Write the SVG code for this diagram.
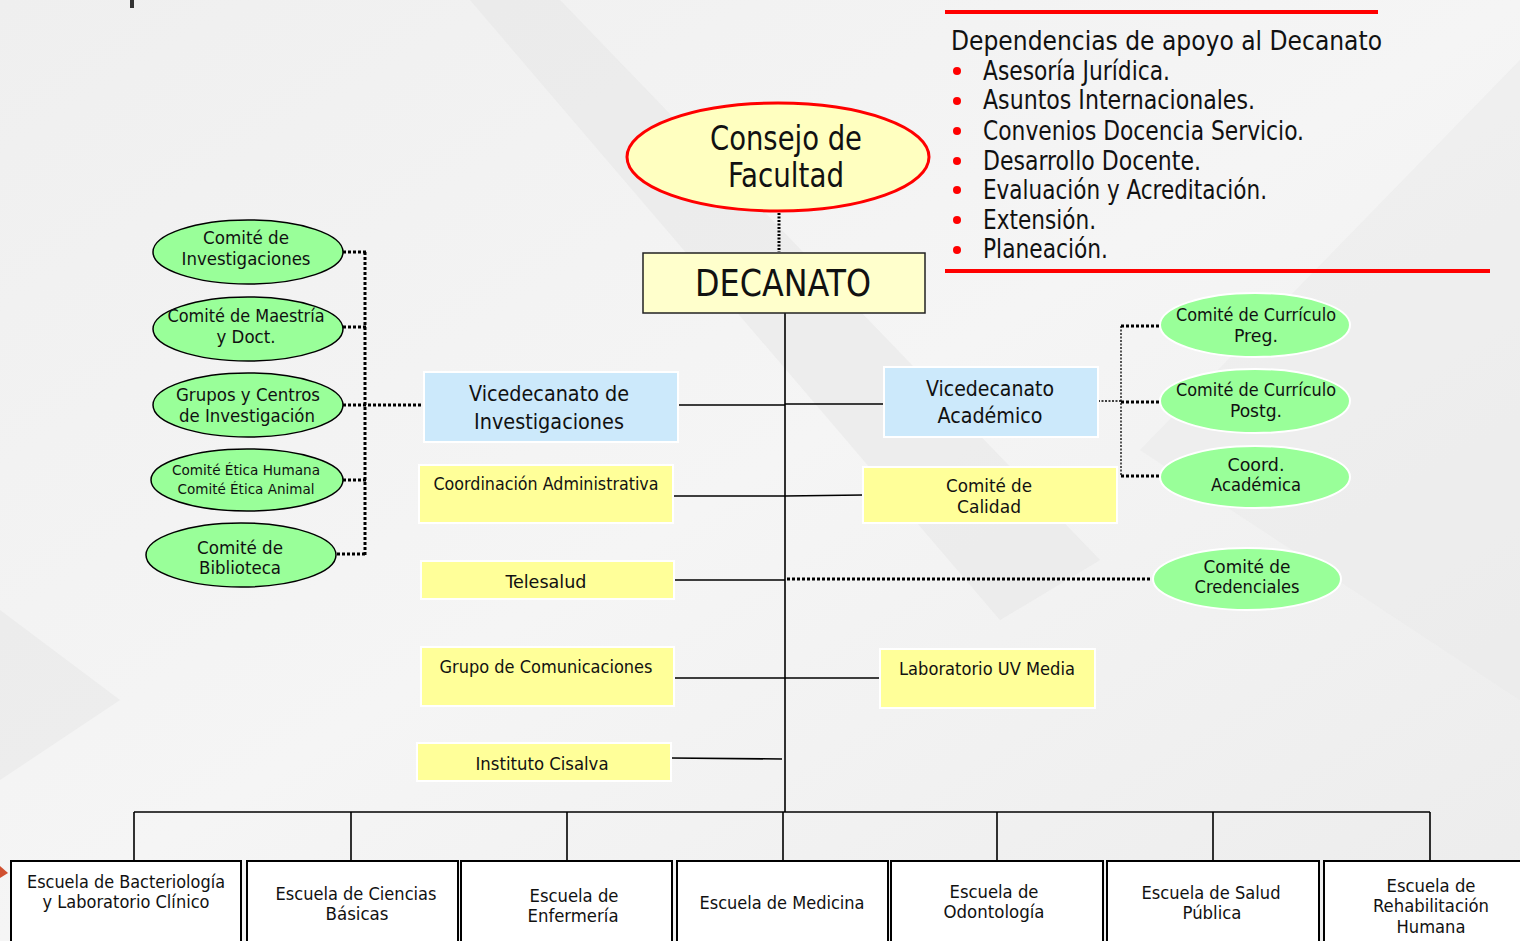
<svg xmlns="http://www.w3.org/2000/svg" width="1520" height="941" viewBox="0 0 1520 941">
<defs>
<linearGradient id="bg" x1="0" y1="0" x2="1" y2="1">
<stop offset="0" stop-color="#efefef"/>
<stop offset="0.5" stop-color="#f5f5f5"/>
<stop offset="1" stop-color="#ececec"/>
</linearGradient>
</defs>
<style>
text{font-family:"DejaVu Sans Condensed","DejaVu Sans",Verdana,sans-serif;fill:#111;text-anchor:middle}
.t18{font-size:18px}
.t14{font-size:14px}
.t22{font-size:22px}
.t26{font-size:26px;text-anchor:start}
.green{fill:#99ff99;stroke:#000;stroke-width:1.5}
.greenw{fill:#99ff99;stroke:#ffffff;stroke-width:2}
.yel{fill:#ffff99;stroke:#ffffff;stroke-width:2}
.blue{fill:#cce9fb;stroke:#ffffff;stroke-width:2}
.school{fill:#ffffff;stroke:#000;stroke-width:2}
.solid{stroke:#000;stroke-width:1.6;fill:none}
.dotb{stroke:#000;stroke-width:3;stroke-dasharray:3 2;fill:none}
.dott{stroke:#000;stroke-width:1.3;stroke-dasharray:2 1.5;fill:none}
.red{stroke:#ff0000;stroke-width:4}
</style>
<rect width="1520" height="941" fill="url(#bg)"/>
<polygon points="470,0 560,0 1100,560 1000,620" fill="#e6e6e6" opacity="0.5"/>
<polygon points="0,780 120,700 0,610" fill="#e8e8e8" opacity="0.6"/>
<polygon points="1140,450 1520,60 1520,700" fill="#e9e9e9" opacity="0.5"/>
<rect x="130" y="0" width="4" height="8" fill="#333"/>
<polygon points="0,866 8,873 0,878" fill="#d05030"/>

<!-- Legend -->
<g id="legend">
<line class="red" x1="945" y1="12" x2="1378" y2="12"/>
<line class="red" x1="945" y1="271" x2="1490" y2="271"/>
<text x="951" y="50" class="t26" textLength="431" lengthAdjust="spacingAndGlyphs">Dependencias de apoyo al Decanato</text>
<g fill="#ff0000">
<circle cx="957" cy="71" r="4"/><circle cx="957" cy="101" r="4"/><circle cx="957" cy="131" r="4"/><circle cx="957" cy="161" r="4"/><circle cx="957" cy="190" r="4"/><circle cx="957" cy="220" r="4"/><circle cx="957" cy="250" r="4"/>
</g>
<text x="983" y="80" class="t26" textLength="187" lengthAdjust="spacingAndGlyphs">Asesoría Jurídica.</text>
<text x="983" y="109" class="t26" textLength="272" lengthAdjust="spacingAndGlyphs">Asuntos Internacionales.</text>
<text x="983" y="140" class="t26" textLength="321" lengthAdjust="spacingAndGlyphs">Convenios Docencia Servicio.</text>
<text x="983" y="170" class="t26" textLength="218" lengthAdjust="spacingAndGlyphs">Desarrollo Docente.</text>
<text x="983" y="199" class="t26" textLength="284" lengthAdjust="spacingAndGlyphs">Evaluación y Acreditación.</text>
<text x="983" y="229" class="t26" textLength="113" lengthAdjust="spacingAndGlyphs">Extensión.</text>
<text x="983" y="258" class="t26" textLength="125" lengthAdjust="spacingAndGlyphs">Planeación.</text>
</g>

<!-- Connectors -->
<g id="connectors">
<line class="dott" x1="779" y1="213" x2="779" y2="252" style="stroke-width:3"/>
<line class="solid" x1="785" y1="313" x2="785" y2="812"/>
<line class="solid" x1="134" y1="812" x2="1430" y2="812"/>
<line class="solid" x1="134" y1="812" x2="134" y2="860"/>
<line class="solid" x1="351" y1="812" x2="351" y2="860"/>
<line class="solid" x1="567" y1="812" x2="567" y2="860"/>
<line class="solid" x1="783" y1="812" x2="783" y2="860"/>
<line class="solid" x1="997" y1="812" x2="997" y2="860"/>
<line class="solid" x1="1213" y1="812" x2="1213" y2="860"/>
<line class="solid" x1="1430" y1="812" x2="1430" y2="860"/>
<line class="solid" x1="678" y1="405" x2="785" y2="405"/>
<line class="solid" x1="785" y1="404" x2="884" y2="404"/>
<line class="solid" x1="673" y1="496" x2="785" y2="496"/>
<line class="solid" x1="785" y1="496" x2="863" y2="495"/>
<line class="solid" x1="674" y1="580" x2="785" y2="580"/>
<line class="dotb" x1="787" y1="579" x2="1150" y2="579"/>
<line class="solid" x1="674" y1="678" x2="880" y2="678"/>
<line class="solid" x1="671" y1="758" x2="782" y2="759"/>
<!-- left dotted -->
<line class="dotb" x1="365" y1="252" x2="365" y2="555"/>
<line class="dotb" x1="343" y1="252" x2="366" y2="252"/>
<line class="dotb" x1="343" y1="327" x2="366" y2="327"/>
<line class="dotb" x1="343" y1="405" x2="424" y2="405"/>
<line class="dotb" x1="343" y1="480" x2="366" y2="480"/>
<line class="dotb" x1="337" y1="554" x2="366" y2="554"/>
<!-- right dotted -->
<line class="dott" x1="1121" y1="326" x2="1121" y2="476"/>
<line class="dott" x1="1098" y1="401" x2="1121" y2="401"/>
<line class="dotb" x1="1121" y1="326" x2="1160" y2="326"/>
<line class="dotb" x1="1121" y1="402" x2="1160" y2="402"/>
<line class="dotb" x1="1121" y1="476" x2="1160" y2="476"/>
</g>

<g id="consejo">
<ellipse cx="778" cy="157" rx="151" ry="54" fill="#ffffc0" stroke="#ff0000" stroke-width="3"/>
<text x="786" y="150" style="font-size:34px" textLength="152" lengthAdjust="spacingAndGlyphs">Consejo de</text>
<text x="786" y="187" style="font-size:34px" textLength="116" lengthAdjust="spacingAndGlyphs">Facultad</text>
</g>
<g id="decanato">
<rect x="643" y="253" width="282" height="60" fill="#ffffcc" stroke="#222" stroke-width="1.5"/>
<text x="783" y="296" style="font-size:37px" textLength="176" lengthAdjust="spacingAndGlyphs">DECANATO</text>
</g>

<g id="vice-inv">
<rect class="blue" x="424" y="372" width="254" height="70"/>
<text class="t22" x="549" y="401" textLength="160" lengthAdjust="spacingAndGlyphs">Vicedecanato de</text>
<text class="t22" x="549" y="429" textLength="150" lengthAdjust="spacingAndGlyphs">Investigaciones</text>
</g>
<g id="vice-acad">
<rect class="blue" x="884" y="367" width="214" height="70"/>
<text class="t22" x="990" y="396" textLength="128" lengthAdjust="spacingAndGlyphs">Vicedecanato</text>
<text class="t22" x="990" y="423" textLength="105" lengthAdjust="spacingAndGlyphs">Académico</text>
</g>
<g id="coord-adm">
<rect class="yel" x="419" y="465" width="254" height="58"/>
<text class="t18" x="546" y="490" textLength="225" lengthAdjust="spacingAndGlyphs">Coordinación Administrativa</text>
</g>
<g id="calidad">
<rect class="yel" x="863" y="467" width="254" height="56"/>
<text class="t18" x="989" y="492" textLength="86" lengthAdjust="spacingAndGlyphs">Comité de</text>
<text class="t18" x="989" y="513" textLength="64" lengthAdjust="spacingAndGlyphs">Calidad</text>
</g>
<g id="telesalud">
<rect class="yel" x="421" y="561" width="253" height="38"/>
<text class="t18" x="546" y="588" textLength="81" lengthAdjust="spacingAndGlyphs">Telesalud</text>
</g>
<g id="comunicaciones">
<rect class="yel" x="421" y="647" width="253" height="59"/>
<text class="t18" x="546" y="673" textLength="213" lengthAdjust="spacingAndGlyphs">Grupo de Comunicaciones</text>
</g>
<g id="uvmedia">
<rect class="yel" x="880" y="649" width="215" height="59"/>
<text class="t18" x="987" y="675" textLength="176" lengthAdjust="spacingAndGlyphs">Laboratorio UV Media</text>
</g>
<g id="cisalva">
<rect class="yel" x="417" y="743" width="254" height="38"/>
<text class="t18" x="542" y="770" textLength="133" lengthAdjust="spacingAndGlyphs">Instituto Cisalva</text>
</g>

<g id="c-investigaciones">
<ellipse class="green" cx="248" cy="252" rx="95" ry="32"/>
<text class="t18" x="246" y="244" textLength="86" lengthAdjust="spacingAndGlyphs">Comité de</text>
<text class="t18" x="246" y="265" textLength="129" lengthAdjust="spacingAndGlyphs">Investigaciones</text>
</g>
<g id="c-maestria">
<ellipse class="green" cx="248" cy="329" rx="95" ry="32"/>
<text class="t18" x="246" y="322" textLength="157" lengthAdjust="spacingAndGlyphs">Comité de Maestría</text>
<text class="t18" x="246" y="343" textLength="59" lengthAdjust="spacingAndGlyphs">y Doct.</text>
</g>
<g id="c-grupos">
<ellipse class="green" cx="248" cy="405" rx="95" ry="32"/>
<text class="t18" x="248" y="401" textLength="144" lengthAdjust="spacingAndGlyphs">Grupos y Centros</text>
<text class="t18" x="247" y="422" textLength="136" lengthAdjust="spacingAndGlyphs">de Investigación</text>
</g>
<g id="c-etica">
<ellipse class="green" cx="247" cy="480" rx="96" ry="31"/>
<text class="t14" x="246" y="475" textLength="148" lengthAdjust="spacingAndGlyphs">Comité Ética Humana</text>
<text class="t14" x="246" y="494" textLength="137" lengthAdjust="spacingAndGlyphs">Comité Ética Animal</text>
</g>
<g id="c-biblioteca">
<ellipse class="green" cx="241" cy="555" rx="95" ry="32"/>
<text class="t18" x="240" y="554" textLength="86" lengthAdjust="spacingAndGlyphs">Comité de</text>
<text class="t18" x="240" y="574" textLength="82" lengthAdjust="spacingAndGlyphs">Biblioteca</text>
</g>

<g id="c-curr-preg">
<ellipse class="greenw" cx="1255" cy="325" rx="95" ry="32"/>
<text class="t18" x="1256" y="321" textLength="160" lengthAdjust="spacingAndGlyphs">Comité de Currículo</text>
<text class="t18" x="1256" y="342" textLength="44" lengthAdjust="spacingAndGlyphs">Preg.</text>
</g>
<g id="c-curr-postg">
<ellipse class="greenw" cx="1255" cy="401" rx="95" ry="32"/>
<text class="t18" x="1256" y="396" textLength="160" lengthAdjust="spacingAndGlyphs">Comité de Currículo</text>
<text class="t18" x="1256" y="417" textLength="52" lengthAdjust="spacingAndGlyphs">Postg.</text>
</g>
<g id="c-coord-acad">
<ellipse class="greenw" cx="1255" cy="477" rx="95" ry="31"/>
<text class="t18" x="1256" y="471" textLength="57" lengthAdjust="spacingAndGlyphs">Coord.</text>
<text class="t18" x="1256" y="491" textLength="90" lengthAdjust="spacingAndGlyphs">Académica</text>
</g>
<g id="c-credenciales">
<ellipse class="greenw" cx="1247" cy="579" rx="94" ry="31"/>
<text class="t18" x="1247" y="573" textLength="87" lengthAdjust="spacingAndGlyphs">Comité de</text>
<text class="t18" x="1247" y="593" textLength="105" lengthAdjust="spacingAndGlyphs">Credenciales</text>
</g>

<g id="esc-bacteriologia">
<rect class="school" x="11" y="861" width="230" height="90"/>
<text class="t18" x="126" y="888" textLength="198" lengthAdjust="spacingAndGlyphs">Escuela de Bacteriología</text>
<text class="t18" x="126" y="908" textLength="167" lengthAdjust="spacingAndGlyphs">y Laboratorio Clínico</text>
</g>
<g id="esc-ciencias">
<rect class="school" x="247" y="861" width="211" height="90"/>
<text class="t18" x="356" y="900" textLength="161" lengthAdjust="spacingAndGlyphs">Escuela de Ciencias</text>
<text class="t18" x="357" y="920" textLength="63" lengthAdjust="spacingAndGlyphs">Básicas</text>
</g>
<g id="esc-enfermeria">
<rect class="school" x="461" y="861" width="211" height="90"/>
<text class="t18" x="574" y="902" textLength="89" lengthAdjust="spacingAndGlyphs">Escuela de</text>
<text class="t18" x="573" y="922" textLength="91" lengthAdjust="spacingAndGlyphs">Enfermería</text>
</g>
<g id="esc-medicina">
<rect class="school" x="677" y="861" width="211" height="90"/>
<text class="t18" x="782" y="909" textLength="165" lengthAdjust="spacingAndGlyphs">Escuela de Medicina</text>
</g>
<g id="esc-odontologia">
<rect class="school" x="891" y="861" width="212" height="90"/>
<text class="t18" x="994" y="898" textLength="89" lengthAdjust="spacingAndGlyphs">Escuela de</text>
<text class="t18" x="994" y="918" textLength="101" lengthAdjust="spacingAndGlyphs">Odontología</text>
</g>
<g id="esc-salud">
<rect class="school" x="1107" y="861" width="212" height="90"/>
<text class="t18" x="1211" y="899" textLength="139" lengthAdjust="spacingAndGlyphs">Escuela de Salud</text>
<text class="t18" x="1212" y="919" textLength="59" lengthAdjust="spacingAndGlyphs">Pública</text>
</g>
<g id="esc-rehabilitacion">
<rect class="school" x="1324" y="861" width="210" height="90"/>
<text class="t18" x="1431" y="892" textLength="89" lengthAdjust="spacingAndGlyphs">Escuela de</text>
<text class="t18" x="1431" y="912" textLength="116" lengthAdjust="spacingAndGlyphs">Rehabilitación</text>
<text class="t18" x="1431" y="933" textLength="69" lengthAdjust="spacingAndGlyphs">Humana</text>
</g>
</svg>
